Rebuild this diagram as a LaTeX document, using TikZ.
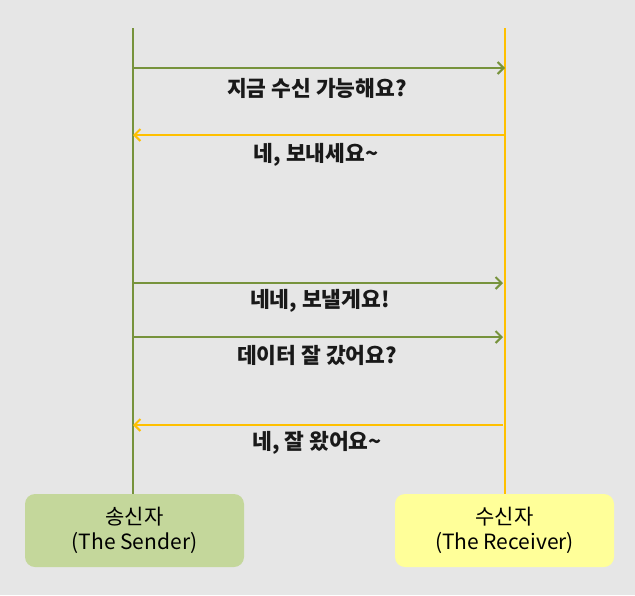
\documentclass[tikz,border=0pt]{standalone}
\usepackage{fontspec}
\setmainfont{Noto Sans CJK KR}
\newfontfamily\kr{Noto Sans CJK KR}
\usetikzlibrary{arrows.meta}
\definecolor{bg}{HTML}{E6E6E6}
\definecolor{sgreen}{HTML}{77933C}
\definecolor{ryellow}{HTML}{FFC000}
\definecolor{gfill}{HTML}{C4D79B}
\definecolor{yfill}{HTML}{FFFF99}
\tikzset{
  msg/.style={font=\kr\bfseries\fontsize{21.5}{26}\selectfont, text=black!90, inner sep=0pt},
  life/.style={line width=2pt},
  arr/.style={line width=2pt, -{Straight Barb[length=6pt,width=12pt,line width=2pt]}},
  party/.style={rounded corners=10pt, minimum width=219pt, minimum height=73pt, align=center, font=\kr\fontsize{21}{25}\selectfont, inner sep=0pt}
}
\begin{document}
\begin{tikzpicture}[x=1pt,y=-1pt]
\fill[bg] (0,0) rectangle (635,595);
\useasboundingbox (0,0) rectangle (635,595);
\coordinate (stop) at (133,28);
\coordinate (rtop) at (505,28);
\node[party, fill=gfill] (sender) at (134.5,530.5) {송신자\\(The Sender)};
\node[party, fill=yfill] (receiver) at (504.5,530.5) {수신자\\(The Receiver)};
\draw[life, sgreen] (stop) -- (sender.north -| stop);
\draw[life, ryellow] (rtop) -- (receiver.north -| rtop);
% message anchors
\coordinate (s1) at (133,68);  \coordinate (r1) at (505,68);
\coordinate (s2) at (133,135); \coordinate (r2) at (505,135);
\coordinate (s3) at (133,283); \coordinate (r3) at (503,283);
\coordinate (s4) at (133,337); \coordinate (r4) at (503,337);
\coordinate (s5) at (133,425); \coordinate (r5) at (503,425);
\draw[arr, sgreen] (s1) -- (r1);
\draw[arr, ryellow] (r2) -- (s2);
\draw[arr, sgreen] (s3) -- (r3);
\draw[arr, sgreen] (s4) -- (r4);
\draw[arr, ryellow] (r5) -- (s5);
\node[msg] (m1) at (317,88) {지금 수신 가능해요?};
\node[msg] (m2) at (316,155) {네, 보내세요\textasciitilde};
\node[msg] (m3) at (320,301) {네네, 보낼게요!};
\node[msg] (m4) at (317,355) {데이터 잘 갔어요?};
\node[msg] (m5) at (317,443) {네, 잘 왔어요\textasciitilde};
\end{tikzpicture}
\end{document}
